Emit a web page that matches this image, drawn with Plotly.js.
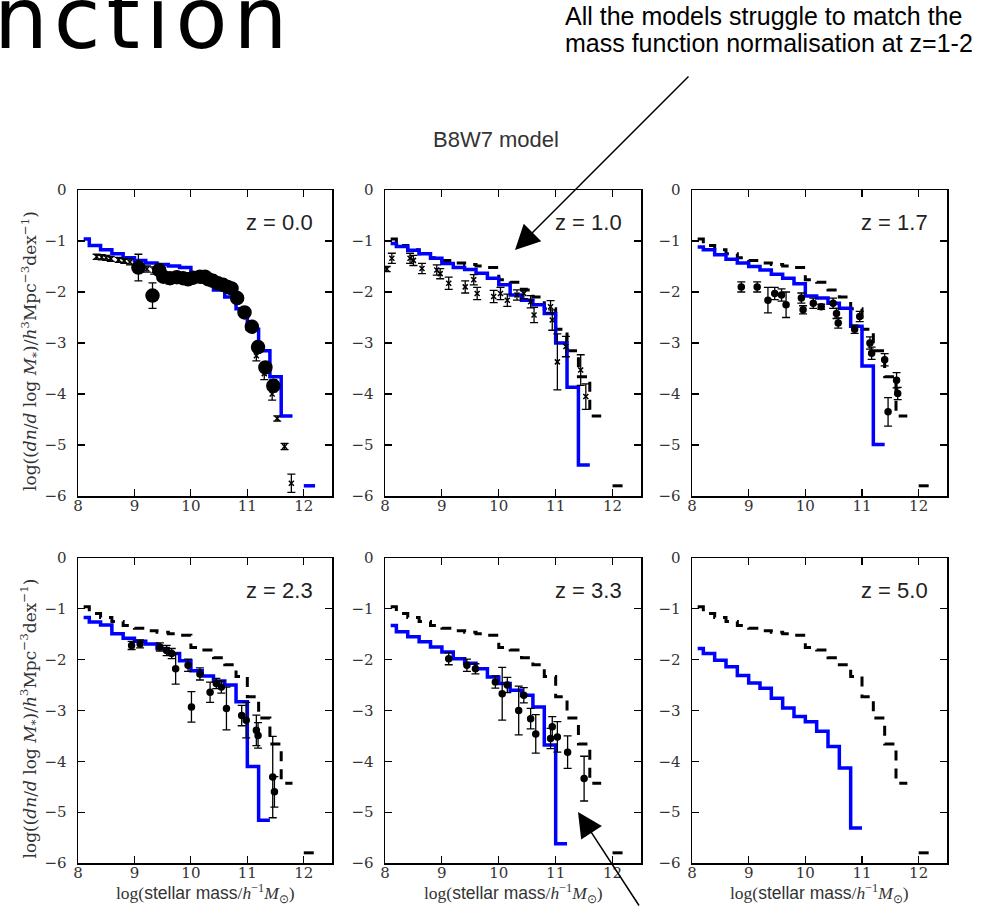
<!DOCTYPE html>
<html>
<head>
<meta charset="utf-8">
<script src="https://cdn.plot.ly/plotly-3.0.1.min.js"></script>
<style>
html,body{margin:0;padding:0;background:#fff;}
#chart{width:994px;height:907px;}
text[data-unformatted="nction"]{letter-spacing:6px;}
</style>
</head>
<body>
<div id="chart"></div>
<script>
// ---- data ----
const massEdges = [8.1, 8.2, 8.4, 8.6, 8.8, 9.0, 9.2, 9.4, 9.6, 9.8, 10.0, 10.2, 10.4, 10.6, 10.8, 11.0, 11.2, 11.4, 11.6, 11.8, 12.0, 12.2];

const modelZ00 = [-0.96, -1.09, -1.17, -1.25, -1.33, -1.38, -1.43, -1.46, -1.49, -1.52, -1.76, -1.81, -1.96, -2.10, -2.33, -2.73, -3.15, -3.66, -4.43, null, -5.80];
const modelZ10 = [-1.05, -1.11, -1.18, -1.25, -1.34, -1.44, -1.52, -1.56, -1.63, -1.73, -1.86, -2.06, -2.16, -2.25, -2.42, -3.00, -3.87, -5.39, null, null, null];
const modelZ17 = [-1.12, -1.17, -1.27, -1.36, -1.43, -1.50, -1.57, -1.65, -1.73, -1.84, -2.08, -2.12, -2.22, -2.32, -2.67, -3.45, -4.99, null, null, null, null];
const modelZ23 = [-1.17, -1.26, -1.32, -1.49, -1.58, -1.64, -1.69, -1.78, -1.88, -2.02, -2.22, -2.32, -2.42, -2.50, -2.83, -4.10, -5.16, null, null, null, null];
const modelZ33 = [-1.33, -1.45, -1.55, -1.65, -1.75, -1.85, -1.98, -2.07, -2.18, -2.34, -2.47, -2.60, -2.70, -2.93, -3.68, -5.62, null, null, null, null, null];
const modelZ50 = [-1.78, -1.88, -2.01, -2.14, -2.31, -2.46, -2.56, -2.76, -2.95, -3.12, -3.22, -3.41, -3.71, -4.13, -5.31, null, null, null, null, null, null];

const redshiftLabels = ['z = 0.0', 'z = 1.0', 'z = 1.7', 'z = 2.3', 'z = 3.3', 'z = 5.0'];

// observations z = 0.0 (large circles)
const obsBigX0 = [9.07, 9.32, 9.44, 9.51, 9.63, 9.75, 9.86, 9.95, 10.04, 10.16, 10.25, 10.31, 10.39, 10.48, 10.57, 10.65, 10.72, 10.82, 10.95, 11.08, 11.19, 11.32, 11.46];
const obsBigY0 = [-1.52, -2.07, -1.57, -1.70, -1.73, -1.71, -1.73, -1.75, -1.72, -1.70, -1.70, -1.75, -1.78, -1.83, -1.86, -1.90, -1.93, -2.12, -2.40, -2.68, -3.08, -3.48, -3.84];
const obsBigE0 = [0.26, 0.25, 0.05, 0.04, 0.04, 0.04, 0.04, 0.04, 0.04, 0.04, 0.04, 0.04, 0.04, 0.04, 0.04, 0.04, 0.04, 0.05, 0.05, 0.06, 0.08, 0.10, 0.12];
// observations z = 0.0 (small crosses)
const obsSmallX0 = [8.33, 8.42, 8.50, 8.58, 8.72, 8.82, 8.92, 9.22, 9.35, 9.62, 11.16, 11.30, 11.44, 11.53, 11.66, 11.78];
const obsSmallY0 = [-1.31, -1.32, -1.33, -1.35, -1.37, -1.39, -1.41, -1.55, -1.58, -1.76, -3.25, -3.60, -4.00, -4.48, -5.03, -5.75];
const obsSmallE0 = [0.05, 0.05, 0.05, 0.05, 0.05, 0.05, 0.06, 0.06, 0.07, 0.08, 0.10, 0.12, 0.12, 0.05, 0.06, 0.18];
// observations z = 1.0
const obsX1 = [8.03, 8.12, 8.44, 8.50, 8.65, 8.91, 8.97, 9.12, 9.41, 9.56, 9.62, 9.91, 10.03, 10.15, 10.32, 10.44, 10.56, 10.62, 10.91, 10.94, 11.03, 11.18, 11.44, 11.53];
const obsY1 = [-1.55, -1.34, -1.34, -1.38, -1.54, -1.57, -1.64, -1.83, -1.90, -1.76, -2.03, -2.09, -2.03, -2.16, -2.06, -2.03, -2.19, -2.45, -2.29, -2.55, -3.37, -3.07, -3.53, -4.05];
const obsE1 = [0.05, 0.10, 0.10, 0.10, 0.10, 0.10, 0.10, 0.12, 0.12, 0.10, 0.12, 0.12, 0.12, 0.12, 0.10, 0.10, 0.12, 0.15, 0.12, 0.20, 0.55, 0.20, 0.30, 0.25];
// observations z = 1.7
const obsX2 = [8.87, 9.15, 9.34, 9.46, 9.58, 9.66, 9.93, 9.96, 10.14, 10.28, 10.49, 10.55, 10.58, 10.87, 10.96, 11.14, 11.17, 11.40, 11.46, 11.61, 11.63];
const obsY2 = [-1.90, -1.90, -2.16, -2.03, -2.06, -2.25, -2.12, -2.35, -2.22, -2.29, -2.22, -2.42, -2.61, -2.73, -2.48, -3.00, -3.20, -3.33, -4.35, -3.73, -3.99];
const obsE2 = [0.10, 0.10, 0.25, 0.12, 0.12, 0.25, 0.10, 0.08, 0.10, 0.05, 0.10, 0.10, 0.10, 0.08, 0.10, 0.12, 0.12, 0.12, 0.28, 0.15, 0.12];
// observations z = 2.3
const obsX3 = [8.95, 9.10, 9.45, 9.57, 9.66, 9.73, 9.95, 10.01, 10.16, 10.34, 10.45, 10.54, 10.63, 10.90, 10.98, 11.16, 11.19, 11.45, 11.48];
const obsY3 = [-1.72, -1.69, -1.75, -1.82, -1.88, -2.18, -2.11, -2.93, -2.28, -2.64, -2.47, -2.54, -2.96, -3.10, -3.19, -3.39, -3.49, -4.31, -4.60];
const obsE3 = [0.08, 0.08, 0.08, 0.10, 0.10, 0.30, 0.12, 0.30, 0.12, 0.20, 0.10, 0.12, 0.42, 0.20, 0.35, 0.30, 0.25, 0.80, 0.30];
// observations z = 3.3
const obsX4 = [9.12, 9.44, 9.59, 9.94, 10.06, 10.15, 10.35, 10.44, 10.56, 10.65, 10.91, 10.94, 11.03, 11.21, 11.50];
const obsY4 = [-1.98, -2.11, -2.18, -2.44, -2.67, -2.50, -3.00, -2.70, -3.16, -3.46, -3.55, -3.32, -3.52, -3.82, -4.34];
const obsE4 = [0.12, 0.12, 0.10, 0.12, 0.52, 0.15, 0.48, 0.15, 0.20, 0.38, 0.20, 0.20, 0.30, 0.32, 0.44];

const xTicks = [8, 9, 10, 11, 12];
const yTicks = [0, -1, -2, -3, -4, -5, -6];

const yTitleText = 'log((<i>dn</i>/<i>d</i> log <i>M</i><sub>*</sub>)/<i>h</i><sup>3</sup>Mpc<sup>−3</sup>dex<sup>−1</sup>)';
const xTitleText = 'log(<span style="font-family:Liberation Sans">stellar mass</span>/<i>h</i><sup>−1</sup><i>M</i><sub>⊙</sub>)';

// ---- helpers ----
function stepXY(vals) {
  const x = [], y = [];
  for (let i = 0; i < vals.length; i++) {
    const v = vals[i];
    if (v === null) continue;
    x.push(massEdges[i]); y.push(v);
    if (i === vals.length - 1 || vals[i + 1] === null) {
      x.push(massEdges[i + 1]); y.push(v);
      x.push(null); y.push(null);
    }
  }
  return {x, y};
}

const models = [modelZ00, modelZ10, modelZ17, modelZ23, modelZ33, modelZ50];
const obsSets = [
  [{x: obsSmallX0, y: obsSmallY0, e: obsSmallE0, sym: 'x-thin-open', size: 5},
   {x: obsBigX0, y: obsBigY0, e: obsBigE0, sym: 'circle', size: 13}],
  [{x: obsX1, y: obsY1, e: obsE1, sym: 'x-thin-open', size: 5}],
  [{x: obsX2, y: obsY2, e: obsE2, sym: 'circle', size: 6}],
  [{x: obsX3, y: obsY3, e: obsE3, sym: 'circle', size: 6}],
  [{x: obsX4, y: obsY4, e: obsE4, sym: 'circle', size: 6}],
  []
];

const traces = [];
for (let p = 0; p < 6; p++) {
  const xa = p === 0 ? 'x' : 'x' + (p + 1);
  const ya = p === 0 ? 'y' : 'y' + (p + 1);
  if (p > 0) {
    const d = stepXY(modelZ00);
    traces.push({x: d.x, y: d.y, xaxis: xa, yaxis: ya, mode: 'lines', connectgaps: false,
      line: {shape: 'hv', color: '#000000', width: 3, dash: '10px,8px'}, hoverinfo: 'skip'});
  }
  const m = stepXY(models[p]);
  traces.push({x: m.x, y: m.y, xaxis: xa, yaxis: ya, mode: 'lines', connectgaps: false,
    line: {shape: 'hv', color: '#0000ff', width: 3.5}, name: 'B8W7 ' + redshiftLabels[p]});
  obsSets[p].forEach(o => {
    traces.push({x: o.x, y: o.y, xaxis: xa, yaxis: ya, mode: 'markers',
      marker: {symbol: o.sym, size: o.size, color: '#000000', line: {color: '#000000', width: 1.5}},
      error_y: {type: 'data', array: o.e, visible: true, color: '#000000', thickness: 1.3, width: 4}});
  });
}

// ---- layout ----
const W = 994, H = 907;
const colPx = [[78, 332], [385, 641], [692, 947]];
const rowPx = [[190, 496], [558, 863]];
const tickFont = {family: 'DejaVu Serif, serif', size: 15, color: '#333333'};
function xAxis(c, anchor) {
  return {domain: [colPx[c][0] / W, colPx[c][1] / W], anchor: anchor, range: [8, 12.5],
    tickmode: 'array', tickvals: xTicks, ticks: 'inside', ticklen: 7, tickwidth: 1.2, tickcolor: '#000',
    showline: true, linecolor: '#000', linewidth: 1.5, mirror: 'allticks', showgrid: false, zeroline: false,
    tickfont: tickFont, ticklabelstandoff: -5};
}
function yAxis(r, anchor) {
  return {domain: [1 - rowPx[r][1] / H, 1 - rowPx[r][0] / H], anchor: anchor, range: [-6, 0],
    tickmode: 'array', tickvals: yTicks, ticks: 'inside', ticklen: 7, tickwidth: 1.2, tickcolor: '#000',
    showline: true, linecolor: '#000', linewidth: 1.5, mirror: 'allticks', showgrid: false, zeroline: false,
    tickfont: tickFont, ticklabelstandoff: 7};
}

const layout = {
  width: W, height: H, margin: {l: 0, r: 0, t: 0, b: 0},
  paper_bgcolor: '#ffffff', plot_bgcolor: '#ffffff', showlegend: false,
  xaxis: xAxis(0, 'y'), yaxis: yAxis(0, 'x'),
  xaxis2: xAxis(1, 'y2'), yaxis2: yAxis(0, 'x2'),
  xaxis3: xAxis(2, 'y3'), yaxis3: yAxis(0, 'x3'),
  xaxis4: xAxis(0, 'y4'), yaxis4: yAxis(1, 'x4'),
  xaxis5: xAxis(1, 'y5'), yaxis5: yAxis(1, 'x5'),
  xaxis6: xAxis(2, 'y6'), yaxis6: yAxis(1, 'x6'),
  annotations: []
};

redshiftLabels.forEach((t, p) => {
  const s = p === 0 ? '' : String(p + 1);
  layout.annotations.push({text: t, xref: 'x' + s + ' domain', yref: 'y' + s + ' domain', x: 0.933, y: 0.893,
    xanchor: 'right', yanchor: 'middle', showarrow: false,
    font: {family: 'Liberation Sans, Arial, sans-serif', size: 22, color: '#222'}});
});

layout.annotations.push(
  {text: 'nction', xref: 'paper', yref: 'paper', x: -8 / W, y: 1 - 18.5 / H, xanchor: 'left', yanchor: 'middle',
   showarrow: false, font: {family: 'DejaVu Sans, sans-serif', size: 85, color: '#000'}},
  {text: 'All the models struggle to match the', xref: 'paper', yref: 'paper', x: 563 / W, y: 1 - 16.3 / H,
   xanchor: 'left', yanchor: 'middle', showarrow: false, font: {family: 'Liberation Sans, Arial, sans-serif', size: 25, color: '#000'}},
  {text: 'mass function normalisation at z=1-2', xref: 'paper', yref: 'paper', x: 563 / W, y: 1 - 43.3 / H,
   xanchor: 'left', yanchor: 'middle', showarrow: false, font: {family: 'Liberation Sans, Arial, sans-serif', size: 25, color: '#000'}},
  {text: 'B8W7 model', xref: 'paper', yref: 'paper', x: 496 / W, y: 1 - 139.5 / H, xanchor: 'center', yanchor: 'middle',
   showarrow: false, font: {family: 'Liberation Sans, Arial, sans-serif', size: 22, color: '#333'}},
  {text: '', xref: 'paper', yref: 'paper', x: 515 / W, y: 1 - 250 / H, ax: 175, ay: -175,
   showarrow: true, arrowhead: 2, arrowsize: 3.3, arrowwidth: 1.5, arrowcolor: '#000', standoff: 0},
  {text: '', xref: 'paper', yref: 'paper', x: 578 / W, y: 1 - 812 / H, ax: 62, ay: 118,
   showarrow: true, arrowhead: 2, arrowsize: 3.3, arrowwidth: 1.5, arrowcolor: '#000', standoff: 0}
);

// axis titles (left column y titles, bottom row x titles)
[['y', 0], ['y4', 1]].forEach(([ya, r]) => {
  layout.annotations.push({text: yTitleText, xref: 'paper', yref: 'paper', x: 30 / W,
    y: 1 - ((rowPx[r][0] + rowPx[r][1]) / 2 + 8) / H, xanchor: 'center', yanchor: 'middle', textangle: -90,
    showarrow: false, font: {family: 'DejaVu Serif, serif', size: 17, color: '#333'}});
});
['x4', 'x5', 'x6'].forEach(xa => {
  layout.annotations.push({text: xTitleText, xref: xa + ' domain', yref: 'paper', x: 0.5, y: 1 - 893 / H,
    xanchor: 'center', yanchor: 'middle', showarrow: false,
    font: {family: 'Liberation Serif, serif', size: 17.5, color: '#333'}});
});

Plotly.newPlot('chart', traces, layout, {staticPlot: true});
</script>
</body>
</html>
